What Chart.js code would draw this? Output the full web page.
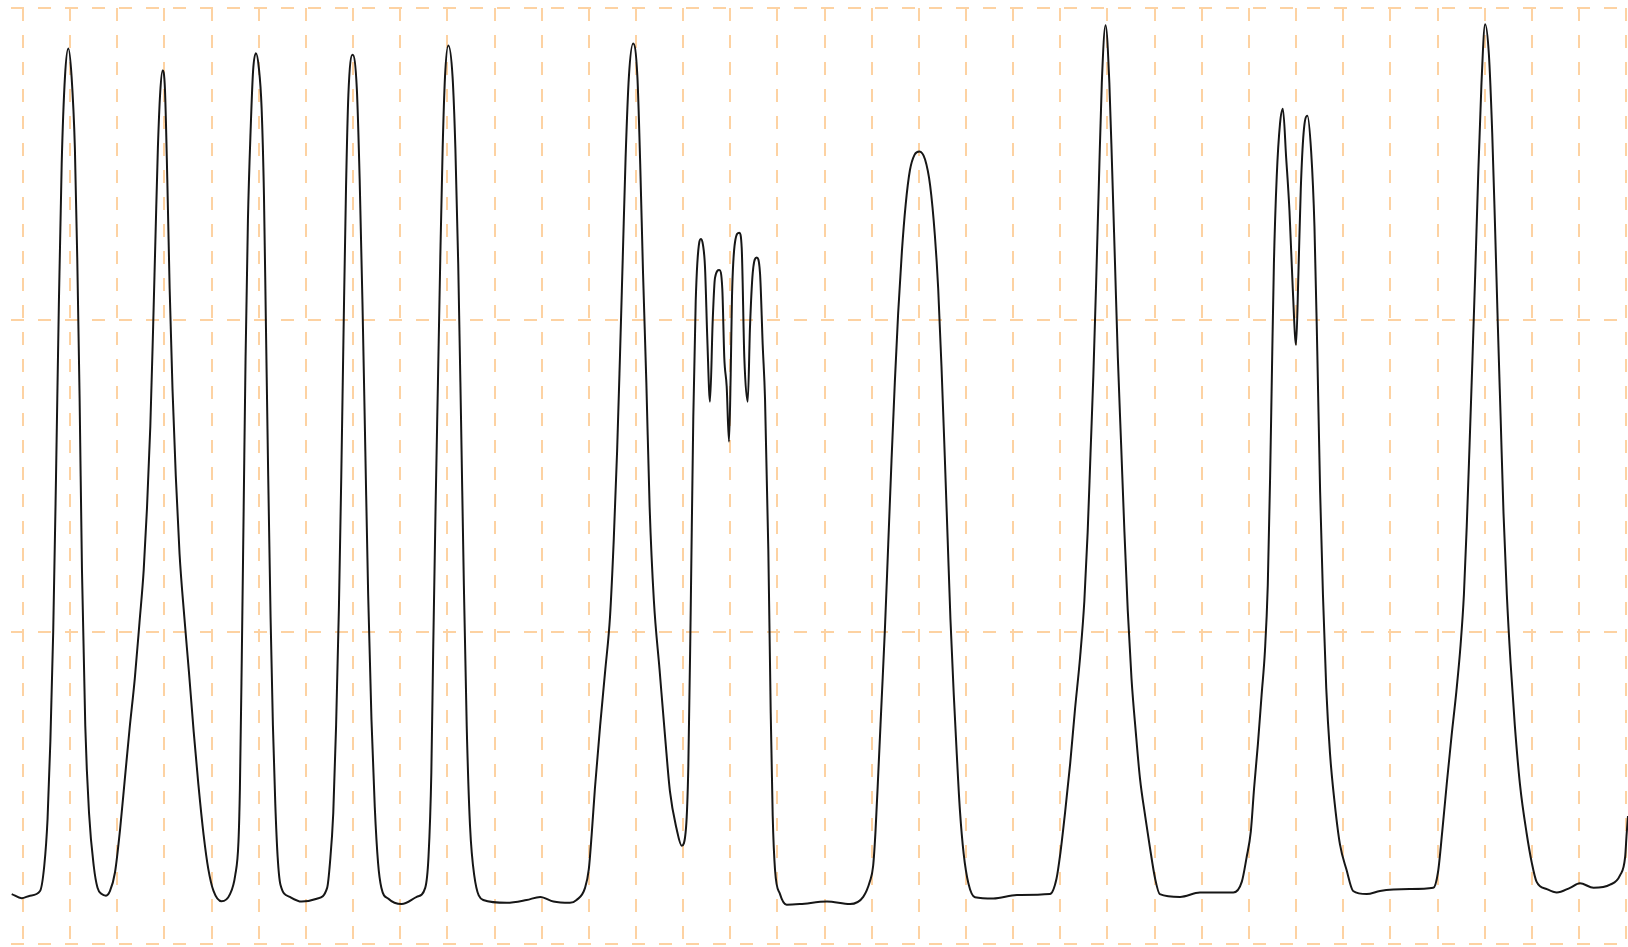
<!DOCTYPE html>
<html>
<head>
<meta charset="utf-8">
<title>Waveform</title>
<script src="https://cdn.jsdelivr.net/npm/chart.js@4.4.1/dist/chart.umd.min.js"></script>
<style>
  html, body { margin: 0; padding: 0; background: #fff; }
  #wrap { position: relative; width: 1628px; height: 947px; }
</style>
</head>
<body>
<div id="wrap"><canvas id="wave"></canvas></div>
<script>
// ── Data (x and y both in grid divisions) ──
const timeDiv = [
  -0.240, -0.028, 0.148, 0.361, 0.45, 0.52, 0.58, 0.64, 0.70, 0.76, 0.82, 0.89, 0.961, 1.03, 1.10, 1.15, 1.20, 1.25, 1.32, 1.40, 1.50, 1.58, 1.669,
  1.76, 1.845, 1.951, 2.06, 2.16, 2.26, 2.37, 2.47, 2.56, 2.63, 2.70, 2.76, 2.81, 2.86, 2.91, 2.96, 3.01, 3.06, 3.11, 3.17, 3.24, 3.32, 3.42, 3.52, 3.62, 3.72, 3.83, 3.93, 4.04, 4.21,
  4.39, 4.50, 4.57, 4.60, 4.64, 4.68, 4.72, 4.77, 4.83, 4.88, 4.94, 5.00, 5.06, 5.11, 5.15, 5.20, 5.25, 5.30, 5.35, 5.40, 5.46, 5.66, 5.91, 6.23, 6.45,
  6.51, 6.58, 6.64, 6.70, 6.75, 6.80, 6.85, 6.90, 6.99, 7.08, 7.14, 7.20, 7.26, 7.32, 7.39, 7.46, 7.53, 7.60, 7.75,
  8.03, 8.35, 8.53, 8.60, 8.66, 8.70, 8.75, 8.80, 8.85, 8.90, 8.95, 9.02, 9.11, 9.17, 9.23, 9.29, 9.35, 9.41, 9.48, 9.57, 9.76,
  10.26, 10.68, 10.97, 11.25, 11.60, 11.74, 11.92, 12.00, 12.06, 12.13, 12.24, 12.35, 12.45, 12.53, 12.60, 12.66, 12.72, 12.78, 12.85, 12.94, 13.03, 13.09, 13.15, 13.22, 13.29, 13.38, 13.50, 13.62, 13.72, 13.86, 13.97,
  14.062, 14.110, 14.161, 14.216, 14.267, 14.344, 14.380, 14.422, 14.464, 14.513, 14.570, 14.628, 14.676, 14.767, 14.831, 14.873, 14.924, 14.973, 15.009, 15.037, 15.101, 15.192, 15.243, 15.298, 15.370, 15.419, 15.476, 15.561, 15.631, 15.688, 15.737, 15.807, 15.858, 15.900, 15.949, 16.055, 16.197,
  16.48, 17.05, 17.54, 17.82, 17.96, 18.03, 18.08, 18.14, 18.21, 18.28, 18.35, 18.42, 18.49, 18.56, 18.64, 18.72, 18.81, 18.91, 19.01, 19.13, 19.24, 19.34, 19.41, 19.48, 19.55, 19.61, 19.67, 19.74, 19.80, 19.87, 19.95, 20.05, 20.19,
  20.58, 21.08, 21.78, 21.92, 22.00, 22.10, 22.21, 22.31, 22.42, 22.51, 22.58, 22.64, 22.70, 22.76, 22.82, 22.88, 22.96, 23.04, 23.10, 23.16, 23.22, 23.29, 23.36, 23.43, 23.51, 23.60, 23.69, 23.80, 23.90, 24.01, 24.11,
  24.54, 24.96, 25.67, 25.85, 25.95, 26.04, 26.11, 26.19, 26.27, 26.34, 26.40, 26.45, 26.49, 26.53, 26.59, 26.66, 26.72, 26.79, 26.86, 26.93, 27.00, 27.05, 27.10, 27.16, 27.24, 27.32, 27.39, 27.45, 27.51, 27.57, 27.64, 27.72, 27.82, 27.93, 28.07, 28.21, 28.50, 28.78, 29.41, 29.91,
  30.01, 30.10, 30.20, 30.30, 30.40, 30.49, 30.56, 30.62, 30.68, 30.74, 30.80, 30.86, 30.93, 31.01, 31.09, 31.16, 31.22, 31.28, 31.34, 31.40, 31.47, 31.55, 31.64, 31.75, 31.89, 32.00, 32.10, 32.32, 32.53, 32.81, 33.02, 33.31, 33.66, 33.87, 33.98, 34.01, 34.04, 34.13
];

const signalDiv = [
  0.160, 0.147, 0.155, 0.170, 0.25, 0.40, 0.65, 1.00, 1.50, 2.05, 2.50, 2.78, 2.87, 2.78, 2.55, 2.20, 1.75, 1.20, 0.70, 0.42, 0.25, 0.18, 0.16,
  0.155, 0.17, 0.23, 0.37, 0.53, 0.69, 0.85, 1.03, 1.20, 1.40, 1.66, 1.98, 2.27, 2.55, 2.73, 2.80, 2.74, 2.45, 2.10, 1.78, 1.50, 1.25, 1.05, 0.87, 0.68, 0.51, 0.35, 0.24, 0.17, 0.137,
  0.16, 0.22, 0.33, 0.50, 0.92, 1.40, 1.88, 2.32, 2.62, 2.80, 2.855, 2.81, 2.68, 2.40, 2.00, 1.50, 1.05, 0.70, 0.45, 0.28, 0.19, 0.151, 0.136, 0.145, 0.18,
  0.26, 0.42, 0.70, 1.08, 1.50, 1.98, 2.42, 2.72, 2.85, 2.74, 2.45, 2.05, 1.58, 1.12, 0.72, 0.44, 0.26, 0.18, 0.145,
  0.128, 0.151, 0.18, 0.28, 0.55, 0.95, 1.40, 1.80, 2.20, 2.55, 2.78, 2.88, 2.78, 2.55, 2.18, 1.68, 1.15, 0.70, 0.38, 0.22, 0.141,
  0.132, 0.141, 0.151, 0.136, 0.132, 0.141, 0.18, 0.24, 0.35, 0.50, 0.70, 0.88, 1.05, 1.30, 1.58, 1.88, 2.20, 2.52, 2.78, 2.886, 2.78, 2.50, 2.15, 1.80, 1.40, 1.10, 0.88, 0.66, 0.49, 0.37, 0.315,
  0.373, 0.567, 1.070, 1.690, 2.060, 2.250, 2.260, 2.240, 2.170, 1.940, 1.738, 2.000, 2.135, 2.160, 2.100, 1.880, 1.787, 1.610, 1.825, 2.077, 2.250, 2.280, 2.230, 1.880, 1.738, 1.980, 2.150, 2.200, 2.150, 1.920, 1.748, 1.264, 0.740, 0.410, 0.238, 0.160, 0.126,
  0.128, 0.136, 0.128, 0.151, 0.20, 0.25, 0.36, 0.55, 0.78, 1.01, 1.28, 1.55, 1.80, 2.02, 2.22, 2.37, 2.48, 2.53, 2.54, 2.515, 2.43, 2.27, 2.10, 1.85, 1.56, 1.30, 1.04, 0.80, 0.62, 0.43, 0.29, 0.195, 0.15,
  0.146, 0.157, 0.16, 0.21, 0.29, 0.42, 0.58, 0.75, 0.92, 1.10, 1.32, 1.57, 1.82, 2.12, 2.45, 2.76, 2.945, 2.76, 2.48, 2.18, 1.88, 1.60, 1.32, 1.07, 0.85, 0.68, 0.53, 0.41, 0.31, 0.21, 0.16,
  0.151, 0.165, 0.165, 0.20, 0.277, 0.36, 0.50, 0.64, 0.80, 0.94, 1.15, 1.50, 1.85, 2.18, 2.46, 2.63, 2.677, 2.52, 2.35, 2.10, 1.92, 2.15, 2.42, 2.60, 2.655, 2.54, 2.30, 1.90, 1.45, 1.12, 0.82, 0.61, 0.45, 0.32, 0.238, 0.17, 0.16, 0.17, 0.176, 0.18,
  0.23, 0.36, 0.52, 0.67, 0.81, 0.96, 1.12, 1.34, 1.60, 1.87, 2.15, 2.45, 2.75, 2.948, 2.85, 2.60, 2.30, 1.98, 1.68, 1.38, 1.12, 0.90, 0.70, 0.51, 0.355, 0.26, 0.20, 0.176, 0.165, 0.18, 0.195, 0.18, 0.19, 0.22, 0.28, 0.35, 0.41, 0.60
];

// vertical grid divisions shown on screen
const xGridDivs = Array.from({ length: 35 }, (_, i) => i);
const xRange = [-0.255, 34.04];
const yRange = [0, 3];

const gridColor = '#fdd2a2';
const gridDash  = [13, 14];

const points = timeDiv.map((t, i) => ({ x: t, y: signalDiv[i] }));

new Chart(document.getElementById('wave'), {
  type: 'line',
  data: {
    datasets: [{
      data: points,
      borderColor: '#161616',
      borderWidth: 2,
      pointRadius: 0,
      cubicInterpolationMode: 'monotone',
      fill: false,
    }],
  },
  options: {
    responsive: true,
    maintainAspectRatio: false,
    animation: false,
    layout: { padding: { left: 11, right: 0, top: 8, bottom: 3 } },
    plugins: { legend: { display: false }, tooltip: { enabled: false } },
    scales: {
      x: {
        type: 'linear',
        min: xRange[0],
        max: xRange[1],
        afterBuildTicks: scale => { scale.ticks = xGridDivs.map(v => ({ value: v })); },
        ticks: { display: false },
        grid: { color: gridColor, lineWidth: 2, drawTicks: false },
        border: { display: false, dash: gridDash },
      },
      y: {
        min: yRange[0],
        max: yRange[1],
        ticks: { display: false, stepSize: 1 },
        grid: { color: gridColor, lineWidth: 2, drawTicks: false },
        border: { display: false, dash: gridDash },
      },
    },
  },
});
</script>
</body>
</html>
